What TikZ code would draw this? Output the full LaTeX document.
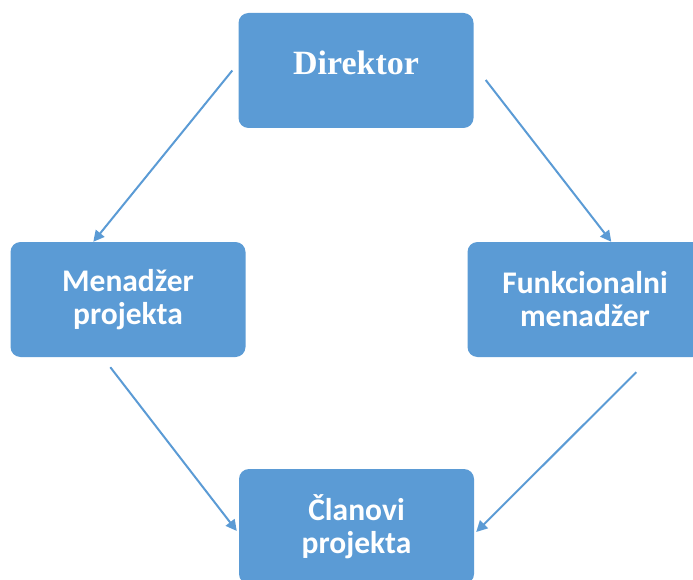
\documentclass[tikz,border=0pt]{standalone}
\usepackage{fontspec}
\setmainfont{Carlito}
\newfontfamily\dirfont{Liberation Serif}
\usepackage{xcolor}
\usepackage{tikz}
\usetikzlibrary{arrows.meta,positioning,calc}
\definecolor{orgblue}{HTML}{5B9BD5}
\tikzset{
  orgbox/.style={fill=orgblue,rounded corners=10pt,minimum width=235pt,minimum height=115pt,inner sep=0pt,align=center,text=white,font=\fontsize{31.5}{33}\selectfont\bfseries},
  orgarr/.style={-{Triangle[length=11pt,width=11pt]},line width=2pt,draw=orgblue}
}

\begin{document}
\begin{tikzpicture}[x=1pt,y=-1pt]
\useasboundingbox (0,0) rectangle (693,580);
% boxes
\node[orgbox,font=\fontsize{34}{36}\selectfont\bfseries\dirfont,text height=23pt,text depth=14pt] (dir) at (356,70.5) {Direktor};
\node[orgbox] (men) at (128,299.5) {Menadžer\\projekta};
\node[orgbox] (fun) at (585,299.5) {Funkcionalni\\menadžer};
\node[orgbox] (cla) at (356.5,526.5) {Članovi\\projekta};
% arrows
\draw[orgarr] ($(dir.west)+(-6,0)$) -- ($(men.north west)+(83,0)$);
\draw[orgarr] ($(dir.east)+(12,9.5)$) -- ($(fun.north west)+(144,0)$);
\draw[orgarr] ($(men.south west)+(100,10)$) -- ($(cla.west)+(-2,4.5)$);
\draw[orgarr] ($(fun.south west)+(169,15)$) -- ($(cla.east)+(2,5.5)$);
\end{tikzpicture}
\end{document}
